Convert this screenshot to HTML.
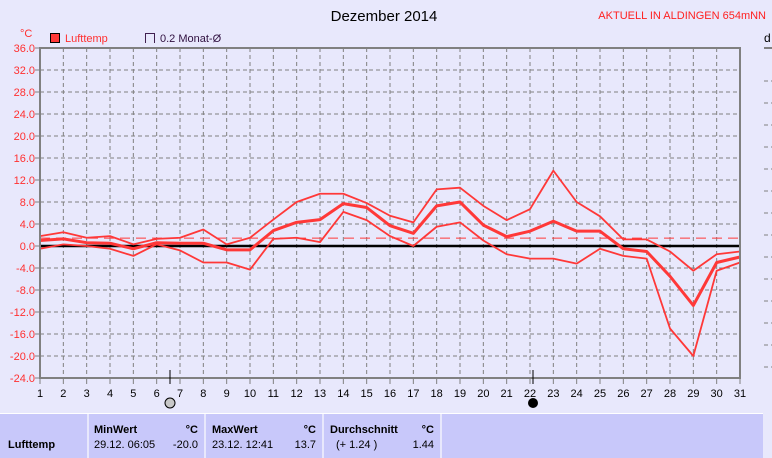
<!DOCTYPE html>
<html><head><meta charset="utf-8"><style>
body{margin:0;background:#e8e8fc;width:772px;height:458px;overflow:hidden;font-family:"Liberation Sans",sans-serif}
</style></head><body>
<svg id="s" width="772" height="458" xmlns="http://www.w3.org/2000/svg" style="position:absolute;left:0;top:0">
<rect width="772" height="458" fill="#e8e8fc"/>
<text x="384" y="21" font-size="15" text-anchor="middle" fill="#000">Dezember 2014</text>
<text x="766" y="19" font-size="11" text-anchor="end" fill="#ff2020">AKTUELL IN ALDINGEN 654mNN</text>
<text x="20" y="37" font-size="11" fill="#ff3030">°C</text>
<rect x="50.5" y="33.5" width="9" height="9" fill="#ff3838" stroke="#000"/>
<text x="65" y="42" font-size="11" fill="#ff3030">Lufttemp</text>
<path d="M145.5,43 V33.5 H154.5 V43" fill="none" stroke="#402050"/>
<text x="160" y="42" font-size="11" fill="#301040">0.2 Monat-Ø</text>
<text x="764" y="42" font-size="12" fill="#000">d</text>
<line x1="764" y1="48" x2="772" y2="48" stroke="#808080" stroke-width="2"/>
<g id="grid"></g>
<g id="series" fill="none" stroke="#ff3838" stroke-linejoin="round"></g>
<rect x="40" y="48" width="700" height="330" fill="none" stroke="#808080" stroke-width="2"/>
<line x1="170" y1="370" x2="170" y2="384" stroke="#000"/>
<circle cx="170" cy="403" r="5" fill="#c8c8c8" stroke="#000"/>
<line x1="533" y1="370" x2="533" y2="384" stroke="#000"/>
<circle cx="533" cy="403" r="5" fill="#000"/>
<rect x="0" y="413" width="763" height="45" fill="#c8c8fa"/>
<line x1="0" y1="413.5" x2="763" y2="413.5" stroke="#fff"/>
<g stroke="#e8e8fc" stroke-width="2"><line x1="88" y1="414" x2="88" y2="458"/><line x1="205" y1="414" x2="205" y2="458"/><line x1="323" y1="414" x2="323" y2="458"/><line x1="441" y1="414" x2="441" y2="458"/></g>
<g font-size="11" fill="#000">
<text x="8" y="448" font-weight="bold">Lufttemp</text>
<text x="94" y="433" font-weight="bold">MinWert</text><text x="198" y="433" text-anchor="end" font-weight="bold">°C</text>
<text x="94" y="448">29.12.  06:05</text><text x="198" y="448" text-anchor="end">-20.0</text>
<text x="212" y="433" font-weight="bold">MaxWert</text><text x="316" y="433" text-anchor="end" font-weight="bold">°C</text>
<text x="212" y="448">23.12.  12:41</text><text x="316" y="448" text-anchor="end">13.7</text>
<text x="330" y="433" font-weight="bold">Durchschnitt</text><text x="434" y="433" text-anchor="end" font-weight="bold">°C</text>
<text x="336" y="448">(+ 1.24 )</text><text x="434" y="448" text-anchor="end">1.44</text>
</g>
</svg>
<script>
const NS="http://www.w3.org/2000/svg",g=document.getElementById('grid'),s=document.getElementById('series');
function el(p,t,a,txt){const e=document.createElementNS(NS,t);for(const k in a)e.setAttribute(k,a[k]);if(txt!=null)e.textContent=txt;p.appendChild(e);return e;}
const X=d=>40+(d-1)*700/30, Y=v=>246-v*5.5;
for(let d=1;d<=31;d++){const x=X(d);
 if(d>1&&d<31)el(g,'line',{x1:x,y1:48,x2:x,y2:378,stroke:'#808080','stroke-dasharray':'4,3'});
 el(g,'line',{x1:x,y1:378,x2:x,y2:384,stroke:'#808080'});
 el(g,'text',{x:x,y:397,'font-size':11,'text-anchor':'middle',fill:'#000'},d);}
for(let v=-24;v<=36;v+=4){const y=Y(v);
 if(v>-24&&v<36)el(g,'line',{x1:40,y1:y,x2:740,y2:y,stroke:'#808080','stroke-dasharray':'4,3'});
 el(g,'line',{x1:35,y1:y,x2:40,y2:y,stroke:'#808080'});
 el(g,'text',{x:35,y:y+4,'font-size':11,'text-anchor':'end',fill:'#ff3030'},v.toFixed(1));
 if(v>-24&&v<36)el(g,'line',{x1:764,y1:y+11,x2:772,y2:y+11,stroke:'#808080','stroke-dasharray':'4,3'});}
el(g,'line',{x1:40,y1:Y(1.44),x2:740,y2:Y(1.44),stroke:'#ff3838','stroke-dasharray':'10,6'});
el(g,'line',{x1:40,y1:246,x2:740,y2:246,stroke:'#000','stroke-width':2.5});
const mx=[1.8,2.5,1.5,1.8,0.3,1.3,1.5,3.0,0.3,1.5,4.8,8.0,9.5,9.5,7.8,5.5,4.3,10.3,10.6,7.3,4.7,6.7,13.7,8,5.4,1.2,1.2,-1.0,-4.5,-1.5,-1.0];
const av=[1.0,1.3,0.6,0.5,-0.5,0.6,0.5,0.5,-0.7,-0.7,2.8,4.3,4.8,7.7,7.0,3.7,2.3,7.3,8.0,3.8,1.7,2.7,4.5,2.7,2.7,-0.5,-1.0,-5.5,-10.8,-3.0,-2.0];
const mn=[-0.5,0.3,0.0,-0.5,-1.8,0.3,-0.8,-3.0,-3.0,-4.3,1.3,1.5,0.7,6.2,4.7,1.8,0.0,3.5,4.3,1.0,-1.5,-2.3,-2.3,-3.2,-0.5,-1.8,-2.3,-15,-20,-4.5,-3.0];
function line(a,w){el(s,'polyline',{points:a.map((v,i)=>X(i+1)+','+Y(v)).join(' '),'stroke-width':w});}
line(mx,1.8);line(mn,1.8);line(av,3);
</script>
</body></html>
